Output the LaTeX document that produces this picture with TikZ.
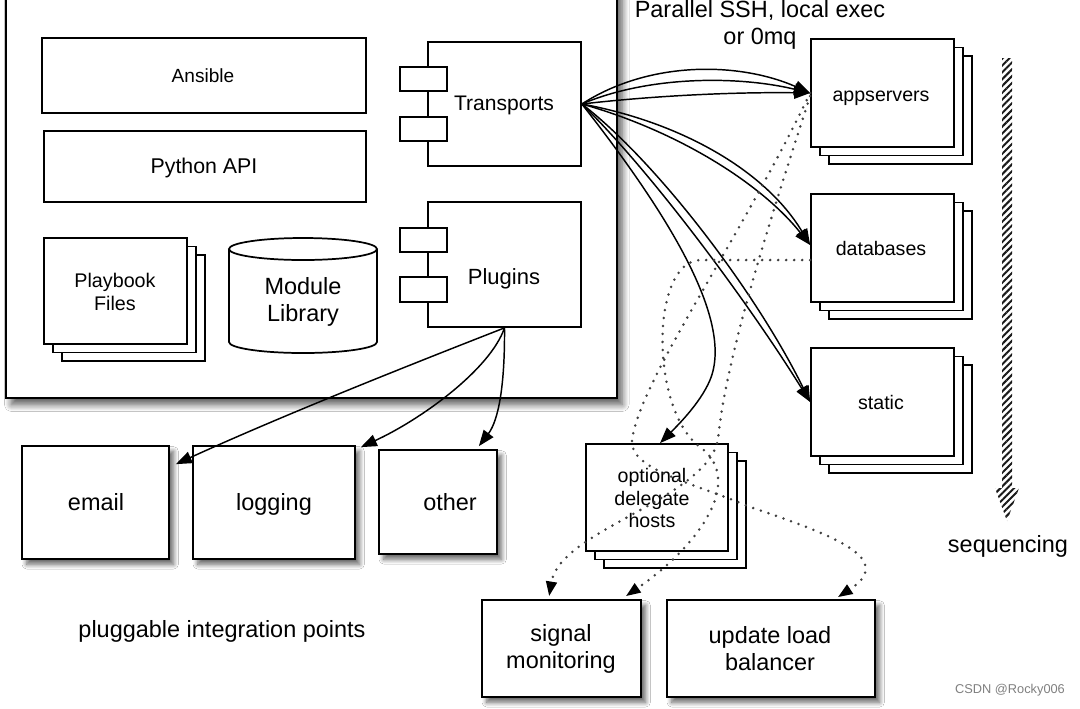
\documentclass[tikz,border=0pt]{standalone}
\usepackage{fontspec}
\setmainfont{Liberation Sans}
\usetikzlibrary{arrows.meta,calc,fit,shadows,shadows.blur,patterns.meta}
\begin{document}
\begin{tikzpicture}[x=0.75pt,y=-0.75pt,
  box/.style={draw=black, line width=1.3pt, fill=white, inner sep=0pt},
  sh/.style={blur shadow={shadow xshift=3.5pt, shadow yshift=-4pt, shadow blur radius=3.5pt, shadow blur steps=8, shadow opacity=60}},
  bigsh/.style={blur shadow={shadow xshift=4pt, shadow yshift=-5pt, shadow blur radius=5pt, shadow blur steps=10, shadow opacity=65}},
  stackbox/.style={double copy shadow={shadow xshift=6.75pt, shadow yshift=-6.4pt, draw=black, fill=white, line width=1.3pt}},
  fbig/.style={font=\fontsize{17.6}{20.3}\selectfont, align=center, inner sep=0pt},
  onebig/.style={fbig, text height=12.6pt, text depth=3.7pt},
  fmid/.style={font=\fontsize{14.7}{16.9}\selectfont, align=center, inner sep=0pt},
  onemid/.style={fmid, text height=10.6pt, text depth=3.1pt},
  arr/.style={line width=1.1pt, -{Triangle[length=12pt,width=9pt]}},
  dotarr/.style={line width=2.1pt, black!75, dash pattern=on 0pt off 6pt, line cap=round, -{Triangle[length=11pt,width=8pt,color=black]}},
]
\useasboundingbox[fill=white] (0,0) rectangle (1080,708);

% core box
\node[box, bigsh, fit={(6,-20)(617,398)}] (core) {};
\node[box, fit={(42,38)(366,113)}] (ans) {};
\node[font=\fontsize{14.3}{16}\selectfont, inner sep=0pt, text height=10.3pt, text depth=3pt] (anst) at (203,78) {Ansible};
\node[box, fit={(44,131)(366,202)}] (api) {};
\node[font=\fontsize{16}{18}\selectfont, inner sep=0pt, text height=11.5pt, text depth=3.4pt] (apit) at (204,168) {Python API};
\node[box, stackbox, fit={(44,238)(187,344)}] (pb) {};
\node[font=\fontsize{14.8}{17.2}\selectfont, align=center, inner sep=0pt] (pbt) at (115,292) {Playbook\\Files};

% cylinder
\draw[box] (229,249) -- (229,342) arc[start angle=180,end angle=0,x radius=74,y radius=11] -- (377,249);
\draw[box] (303,249) ellipse [x radius=74, y radius=11];
\node[font=\fontsize{17.6}{20.3}\selectfont, align=center, inner sep=0pt] (ml) at (303,302) {Module\\Library};

% Transports component
\node[box, fit={(428,42)(581,166)}] (tr) {};
\node[box, fit={(400,67)(447,91)}] (tr1) {};
\node[box, fit={(400,117)(447,141)}] (tr2) {};
\node[font=\fontsize{15.8}{18}\selectfont, inner sep=0pt, text height=11.4pt, text depth=3.3pt] (trt) at (504,105) {Transports};

% Plugins component
\node[box, fit={(428,202)(581,327)}] (pl) {};
\node[box, fit={(400,228)(447,252)}] (pl1) {};
\node[box, fit={(400,277)(447,302)}] (pl2) {};
\node[font=\fontsize{16.5}{18}\selectfont, inner sep=0pt, text height=11.9pt, text depth=3.5pt] (plt) at (504,279) {Plugins};

% integration points
\node[box, sh, fit={(22,446)(169,559)}] (email) {};
\node[onebig] (emailt) at (96,505) {email};
\node[box, sh, fit={(193,446)(355,559)}] (logging) {};
\node[onebig] (loggingt) at (274,505) {logging};
\node[box, sh, fit={(379,450)(497,554)}] (other) {};
\node[onebig] (othert) at (450,505) {other};
\node[onebig] (plug) at (222,632) {pluggable integration points};

% host groups
\node[box, stackbox, fit={(811,39)(954,147)}] (app) {};
\node[onemid] (appt) at (881,96) {appservers};
\node[box, stackbox, fit={(811,194)(954,302)}] (db) {};
\node[onemid] (dbt) at (881,250) {databases};
\node[box, stackbox, fit={(811,348)(954,456)}] (st) {};
\node[onemid] (stt) at (881,404) {static};
\node[box, stackbox, fit={(586,444)(728,551)}] (dh) {};
\node[fmid] (dht) at (652,498) {optional\\delegate\\hosts};

% bottom targets
\node[box, sh, fit={(482,600)(641,697)}] (sm) {};
\node[fbig] (smt) at (561,649) {signal\\monitoring};
\node[box, sh, fit={(667,600)(875,697)}] (ulb) {};
\node[fbig] (ulbt) at (770,649) {update load\\balancer};

% labels
\node[fbig, anchor=base] (par1) at (760,17) {Parallel SSH, local exec};
\node[fbig, anchor=base] (par2) at (760,44) {or 0mq};
\node[onebig] (seq) at (1008,547) {sequencing};
\node[font=\fontsize{9.6}{11}\selectfont, text=black!50] (wm) at (1010,690) {CSDN @Rocky006};

% sequencing arrow
\fill[pattern={Lines[angle=45,distance=3.6pt,line width=1.5pt]}, pattern color=black!90]
  (1002,58) -- (1012,58) -- (1012,488) -- (1019,488) -- (1007,521) -- (995,488) -- (1002,488) -- cycle;

% transports -> groups
\draw[arr] (tr.east) .. controls (650,60) and (740,62) .. (app.west);
\draw[arr] (tr.east) .. controls (650,75) and (740,76) .. (app.west);
\draw[arr] (tr.east) .. controls (660,95) and (740,92) .. (app.west);
\draw[arr] (tr.east) .. controls (680,122) and (765,170) .. ($(db.west)+(0,-3)$);
\draw[arr] (tr.east) .. controls (675,130) and (760,182) .. ($(db.west)+(0,-3)$);
\draw[arr] (tr.east) .. controls (655,160) and (755,290) .. (st.west);
\draw[arr] (tr.east) .. controls (650,170) and (748,302) .. (st.west);
\draw[arr] (tr.east) .. controls (665,210) and (735,320) .. (710,380) .. controls (700,404) and (675,428) .. ($(dh.north)+(3,0)$);

% plugins -> integration points
\draw[arr] (pl.south) .. controls (430,357) and (290,412) .. ($(email.north east)+(6,19)$);
\draw[arr] (pl.south) .. controls (490,370) and (420,420) .. ($(logging.north east)+(5,2)$);
\draw[arr] (pl.south) .. controls (505,400) and (495,425) .. ($(other.north east)+(-19,-3)$);

% dotted delegate flows
\draw[dotarr] (app.west) .. controls (740,240) and (640,380) .. (632,440) .. controls (628,470) and (700,485) .. (750,507) .. controls (840,537) and (895,560) .. ($(ulb.north east)+(-38,-2)$);
\draw[dotarr] ($(app.west)+(0,3)$) .. controls (770,220) and (725,360) .. (718,440) .. controls (705,500) and (560,530) .. ($(sm.north west)+(68,-3)$);
\draw[dotarr] ($(db.west)+(0,12)$) -- (700,260) .. controls (650,262) and (650,410) .. (700,447) .. controls (745,480) and (700,545) .. ($(sm.north east)+(-16,-3)$);
\end{tikzpicture}
\end{document}
